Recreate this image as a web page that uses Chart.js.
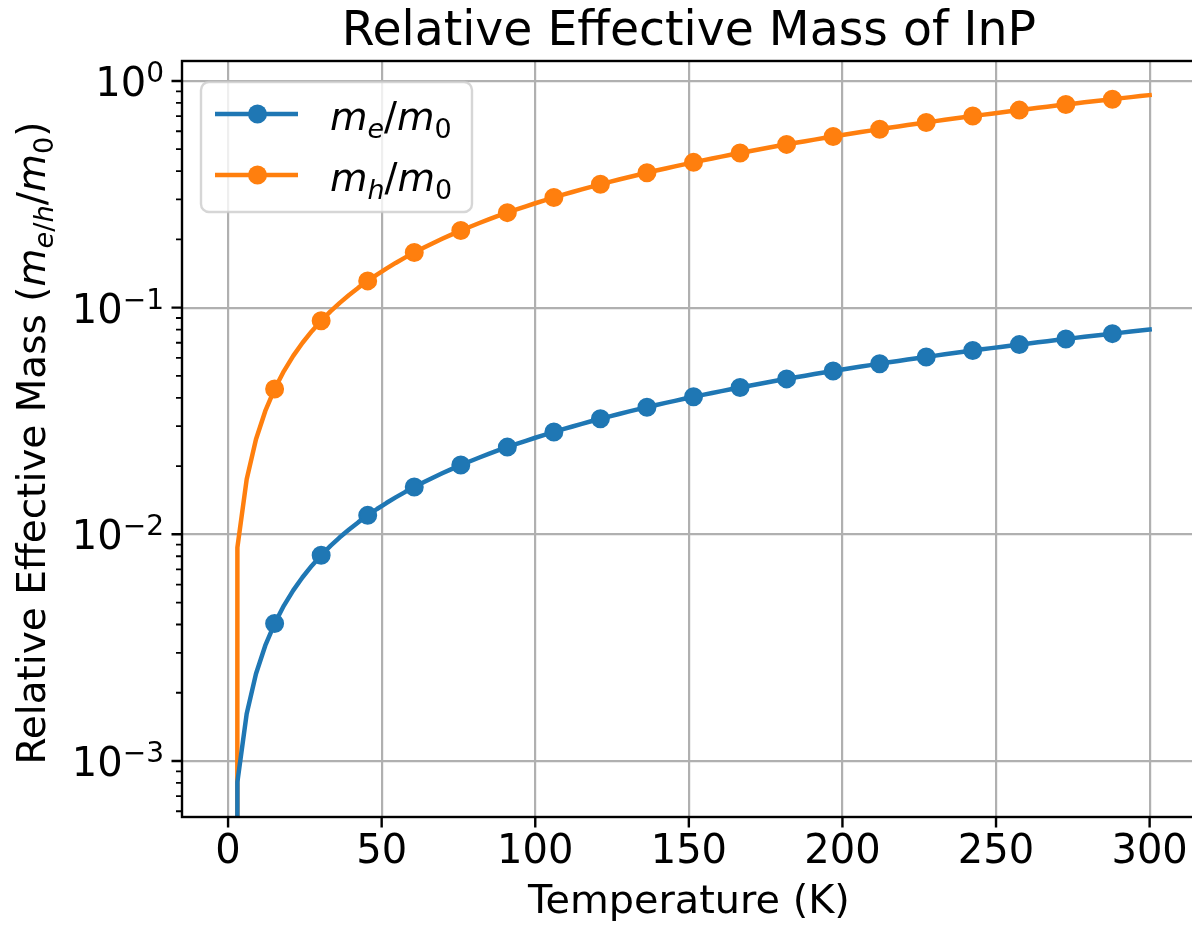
<!DOCTYPE html>
<html>
<head>
<meta charset="utf-8">
<script src="https://cdn.jsdelivr.net/npm/chart.js@4.4.1/dist/chart.umd.min.js"></script>
<style>
  html, body { margin: 0; padding: 0; background: #fff; overflow: hidden; }
  canvas { display: block; }
</style>
</head>
<body>
<canvas id="chart_effectiveMass" width="1192" height="927"></canvas>
<script>
// sampled temperatures (K)
const temperatureK = [
  0.00, 3.03, 6.06, 9.09, 12.12, 15.15, 18.18, 21.21, 24.24, 27.27,
  30.30, 33.33, 36.36, 39.39, 42.42, 45.45, 48.48, 51.52, 54.55, 57.58,
  60.61, 63.64, 66.67, 69.70, 72.73, 75.76, 78.79, 81.82, 84.85, 87.88,
  90.91, 93.94, 96.97, 100.00, 103.03, 106.06, 109.09, 112.12, 115.15, 118.18,
  121.21, 124.24, 127.27, 130.30, 133.33, 136.36, 139.39, 142.42, 145.45, 148.48,
  151.52, 154.55, 157.58, 160.61, 163.64, 166.67, 169.70, 172.73, 175.76, 178.79,
  181.82, 184.85, 187.88, 190.91, 193.94, 196.97, 200.00, 203.03, 206.06, 209.09,
  212.12, 215.15, 218.18, 221.21, 224.24, 227.27, 230.30, 233.33, 236.36, 239.39,
  242.42, 245.45, 248.48, 251.52, 254.55, 257.58, 260.61, 263.64, 266.67, 269.70,
  272.73, 275.76, 278.79, 281.82, 284.85, 287.88, 290.91, 293.94, 296.97, 300.00
];

// m_e / m_0
const electronMassRatio = [
  0, 0.000808, 0.001616, 0.002424, 0.003232, 0.004040, 0.004848, 0.005657, 0.006465, 0.007273,
  0.008081, 0.008889, 0.009697, 0.010505, 0.011313, 0.012121, 0.012929, 0.013737, 0.014545, 0.015354,
  0.016162, 0.016970, 0.017778, 0.018586, 0.019394, 0.020202, 0.021010, 0.021818, 0.022626, 0.023434,
  0.024242, 0.025051, 0.025859, 0.026667, 0.027475, 0.028283, 0.029091, 0.029899, 0.030707, 0.031515,
  0.032323, 0.033131, 0.033939, 0.034747, 0.035556, 0.036364, 0.037172, 0.037980, 0.038788, 0.039596,
  0.040404, 0.041212, 0.042020, 0.042828, 0.043636, 0.044444, 0.045253, 0.046061, 0.046869, 0.047677,
  0.048485, 0.049293, 0.050101, 0.050909, 0.051717, 0.052525, 0.053333, 0.054141, 0.054949, 0.055758,
  0.056566, 0.057374, 0.058182, 0.058990, 0.059798, 0.060606, 0.061414, 0.062222, 0.063030, 0.063838,
  0.064646, 0.065455, 0.066263, 0.067071, 0.067879, 0.068687, 0.069495, 0.070303, 0.071111, 0.071919,
  0.072727, 0.073535, 0.074343, 0.075152, 0.075960, 0.076768, 0.077576, 0.078384, 0.079192, 0.080000
];

// m_h / m_0
const holeMassRatio = [
  0, 0.00875, 0.01750, 0.02624, 0.03499, 0.04374, 0.05249, 0.06123, 0.06998, 0.07873,
  0.08748, 0.09622, 0.10497, 0.11372, 0.12247, 0.13121, 0.13996, 0.14871, 0.15746, 0.16620,
  0.17495, 0.18370, 0.19245, 0.20119, 0.20994, 0.21869, 0.22744, 0.23618, 0.24493, 0.25368,
  0.26243, 0.27117, 0.27992, 0.28867, 0.29742, 0.30616, 0.31491, 0.32366, 0.33241, 0.34115,
  0.34990, 0.35865, 0.36740, 0.37614, 0.38489, 0.39364, 0.40239, 0.41113, 0.41988, 0.42863,
  0.43738, 0.44612, 0.45487, 0.46362, 0.47237, 0.48111, 0.48986, 0.49861, 0.50736, 0.51610,
  0.52485, 0.53360, 0.54235, 0.55109, 0.55984, 0.56859, 0.57734, 0.58608, 0.59483, 0.60358,
  0.61233, 0.62107, 0.62982, 0.63857, 0.64732, 0.65606, 0.66481, 0.67356, 0.68231, 0.69105,
  0.69980, 0.70855, 0.71730, 0.72604, 0.73479, 0.74354, 0.75229, 0.76103, 0.76978, 0.77853,
  0.78728, 0.79602, 0.80477, 0.81352, 0.82227, 0.83101, 0.83976, 0.84851, 0.85726, 0.86600
];

const xTickValues = [0, 50, 100, 150, 200, 250, 300];
const yDecadeValues = [1, 0.1, 0.01, 0.001];
const yDecadeExponents = ['0', '\u22121', '\u22122', '\u22123'];
const yMinorValues = [
  0.0006, 0.0007, 0.0008, 0.0009,
  0.002, 0.003, 0.004, 0.005, 0.006, 0.007, 0.008, 0.009,
  0.02, 0.03, 0.04, 0.05, 0.06, 0.07, 0.08, 0.09,
  0.2, 0.3, 0.4, 0.5, 0.6, 0.7, 0.8, 0.9
];

const chartTitle = 'Relative Effective Mass of InP';
const xAxisTitle = 'Temperature (K)';
// rich text pieces: it = italic, sub = subscript
const yAxisTitle = [
  {t: 'Relative Effective Mass ('}, {t: 'm', it: true}, {t: 'e', it: true, sub: true},
  {t: '/', sub: true}, {t: 'h', it: true, sub: true}, {t: '/'}, {t: 'm', it: true},
  {t: '0', sub: true}, {t: ')'}
];
const seriesLabels = [
  [{t: 'm', it: true}, {t: 'e', it: true, sub: true}, {t: '/'}, {t: 'm', it: true}, {t: '0', sub: true}],
  [{t: 'm', it: true}, {t: 'h', it: true, sub: true}, {t: '/'}, {t: 'm', it: true}, {t: '0', sub: true}]
];
const seriesColors = ['#1f77b4', '#ff7f0e'];

const FONT = 'DejaVu Sans';
const MARK_EVERY = 5;
// the right spine sits just past the figure edge, as in the original
const AXES_RIGHT = 1195.7;

Chart.defaults.font.family = FONT;
Chart.defaults.color = '#000';

// matplotlib clips non-positive values on a log axis to a tiny number
function toPoints(values) {
  return temperatureK.map((t, i) => ({x: t, y: values[i] > 0 ? values[i] : 1e-300}));
}

function richWidth(ctx, parts, size) {
  let w = 0;
  parts.forEach(p => {
    ctx.font = (p.it ? 'italic ' : '') + (p.sub ? size * 0.7 : size) + 'px "' + FONT + '"';
    w += ctx.measureText(p.t).width;
  });
  return w;
}

function drawRich(ctx, parts, x, y, size) {
  let cx = x;
  parts.forEach(p => {
    const s = p.sub ? size * 0.7 : size;
    ctx.font = (p.it ? 'italic ' : '') + s + 'px "' + FONT + '"';
    ctx.fillText(p.t, cx, y + (p.sub ? size * 0.2 : 0));
    cx += ctx.measureText(p.t).width;
  });
}

const mplDecor = {
  id: 'mplDecor',
  afterLayout(chart) {
    const a = chart.chartArea;
    a.right = AXES_RIGHT;
    a.width = AXES_RIGHT - a.left;
    const xs = chart.scales.x;
    xs.right = AXES_RIGHT;
    xs.width = AXES_RIGHT - xs.left;
    xs.configure();
    xs._labelItems = null;
    xs._gridLineItems = null;
    chart.scales.y._gridLineItems = null;
  },
  afterDraw(chart) {
    const ctx = chart.ctx;
    const a = chart.chartArea;
    const xs = chart.scales.x;
    const ys = chart.scales.y;
    ctx.save();
    ctx.strokeStyle = '#000';
    ctx.fillStyle = '#000';

    // title, centred over the axes
    ctx.textAlign = 'center';
    ctx.textBaseline = 'alphabetic';
    ctx.font = '47.3px "' + FONT + '"';
    ctx.fillText(chartTitle, (a.left + a.right) / 2, a.top - 16);

    // major ticks
    ctx.lineWidth = 2.4;
    ctx.beginPath();
    xTickValues.forEach(v => {
      const px = xs.getPixelForValue(v);
      ctx.moveTo(px, a.bottom);
      ctx.lineTo(px, a.bottom + 10.5);
    });
    yDecadeValues.forEach(v => {
      const py = ys.getPixelForValue(v);
      ctx.moveTo(a.left, py);
      ctx.lineTo(a.left - 10.5, py);
    });
    ctx.stroke();

    // minor ticks
    ctx.lineWidth = 1.8;
    ctx.beginPath();
    yMinorValues.forEach(v => {
      const py = ys.getPixelForValue(v);
      ctx.moveTo(a.left, py);
      ctx.lineTo(a.left - 6, py);
    });
    ctx.stroke();

    // spines
    ctx.lineWidth = 2.4;
    ctx.strokeRect(a.left, a.top, a.right - a.left, a.bottom - a.top);

    // y tick labels 10^n
    ctx.textAlign = 'left';
    yDecadeValues.forEach((v, i) => {
      const py = ys.getPixelForValue(v);
      ctx.font = '40px "' + FONT + '"';
      const w1 = ctx.measureText('10').width;
      ctx.font = '28px "' + FONT + '"';
      const w2 = ctx.measureText(yDecadeExponents[i]).width;
      const x0 = a.left - 18 - w1 - w2;
      const base = py + 15;
      ctx.font = '40px "' + FONT + '"';
      ctx.fillText('10', x0, base);
      ctx.font = '28px "' + FONT + '"';
      ctx.fillText(yDecadeExponents[i], x0 + w1, base - 14);
    });

    // y axis title
    const ySize = 39;
    const yw = richWidth(ctx, yAxisTitle, ySize);
    ctx.save();
    ctx.translate(45, (a.top + a.bottom) / 2 + 4);
    ctx.rotate(-Math.PI / 2);
    drawRich(ctx, yAxisTitle, -yw / 2, 0, ySize);
    ctx.restore();

    // legend
    const lx = a.left + 19, ly = a.top + 21;
    ctx.beginPath();
    ctx.roundRect(lx, ly, 271, 130, 8);
    ctx.fillStyle = 'rgba(255,255,255,0.8)';
    ctx.fill();
    ctx.strokeStyle = 'rgba(204,204,204,0.8)';
    ctx.lineWidth = 2.4;
    ctx.stroke();
    seriesLabels.forEach((parts, i) => {
      const ry = a.top + 53 + i * 61;
      ctx.strokeStyle = seriesColors[i];
      ctx.fillStyle = seriesColors[i];
      ctx.lineWidth = 4.5;
      ctx.lineCap = 'butt';
      ctx.beginPath();
      ctx.moveTo(a.left + 33, ry);
      ctx.lineTo(a.left + 116, ry);
      ctx.stroke();
      ctx.beginPath();
      ctx.arc(a.left + 75.5, ry, 9.5, 0, Math.PI * 2);
      ctx.fill();
      ctx.fillStyle = '#000';
      drawRich(ctx, parts, a.left + 148, ry + 16, 38.5);
    });
    ctx.restore();
  }
};

const chart_effectiveMass = new Chart(document.getElementById('chart_effectiveMass'), {
  type: 'line',
  data: {
    datasets: [
      {
        label: 'me/m0',
        data: toPoints(electronMassRatio),
        borderColor: seriesColors[0],
        backgroundColor: seriesColors[0],
        borderWidth: 4.5,
        borderJoinStyle: 'round',
        borderCapStyle: 'square',
        pointRadius: c => (c.dataIndex % MARK_EVERY === 0 ? 8.5 : 0),
        pointBorderWidth: 2,
        tension: 0,
        clip: 0
      },
      {
        label: 'mh/m0',
        data: toPoints(holeMassRatio),
        borderColor: seriesColors[1],
        backgroundColor: seriesColors[1],
        borderWidth: 4.5,
        borderJoinStyle: 'round',
        borderCapStyle: 'square',
        pointRadius: c => (c.dataIndex % MARK_EVERY === 0 ? 8.5 : 0),
        pointBorderWidth: 2,
        tension: 0,
        clip: 0
      }
    ]
  },
  options: {
    responsive: false,
    animation: false,
    events: [],
    layout: { autoPadding: false, padding: { left: 0, right: 0, top: 61, bottom: 0 } },
    plugins: {
      legend: { display: false },
      tooltip: { enabled: false },
      title: { display: false }
    },
    scales: {
      x: {
        type: 'linear',
        min: -15,
        max: 315,
        afterBuildTicks: s => { s.ticks = xTickValues.map(v => ({value: v})); },
        afterFit: s => { s.height = 110; s.paddingLeft = 0; s.paddingRight = 0; },
        grid: { color: '#b0b0b0', lineWidth: 2.2, drawTicks: false },
        border: { display: false },
        ticks: { autoSkip: false, maxRotation: 0, padding: 12, color: '#000', font: { size: 40 } },
        title: { display: true, text: xAxisTitle, color: '#000', font: { size: 39.8 }, padding: { top: 0, bottom: 0.5 } }
      },
      y: {
        type: 'logarithmic',
        min: 5.66e-4,
        max: 1.2246,
        afterBuildTicks: s => { s.ticks = yDecadeValues.map(v => ({value: v, major: true})); },
        afterFit: s => { s.width = 182; s.paddingTop = 0; s.paddingBottom = 0; },
        grid: { color: '#b0b0b0', lineWidth: 2.2, drawTicks: false },
        border: { display: false },
        ticks: { display: false }
      }
    }
  },
  plugins: [mplDecor]
});
</script>
</body>
</html>
